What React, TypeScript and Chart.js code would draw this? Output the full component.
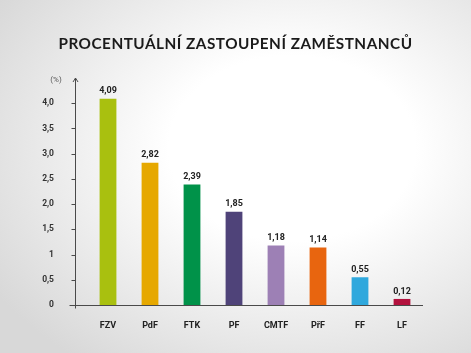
import React, { useEffect, useRef } from 'react';
import { Chart, registerables } from 'chart.js';

Chart.register(...registerables);

const title = 'PROCENTUÁLNÍ ZASTOUPENÍ ZAMĚSTNANCŮ';
const unitLabel = '(%)';
const categories = ['FZV', 'PdF', 'FTK', 'PF', 'CMTF', 'PřF', 'FF', 'LF'];
const values = [4.09, 2.82, 2.39, 1.85, 1.18, 1.14, 0.55, 0.12];
const valueLabels = ['4,09', '2,82', '2,39', '1,85', '1,18', '1,14', '0,55', '0,12'];
const barColors = ['#a9c00f', '#e6a800', '#009249', '#4f4379', '#9d80b5', '#e8650f', '#2fa8dd', '#b3123e'];
const yTickValues = [0, 0.5, 1, 1.5, 2, 2.5, 3, 3.5, 4];
const yTickLabels = ['0', '0,5', '1', '1,5', '2,0', '2,5', '3,0', '3,5', '4,0'];

const FONT = 'Roboto, "DejaVu Sans", sans-serif';

const decorPlugin = {
  id: 'decor',
  afterDraw(chart: any) {
    const { ctx, chartArea } = chart;
    const yScale = chart.scales.y;
    ctx.save();
    // title
    ctx.fillStyle = '#1b1b1b';
    ctx.font = '700 15.3px Lato, "Open Sans", sans-serif';
    ctx.textAlign = 'center';
    ctx.textBaseline = 'middle';
    try { (ctx as any).letterSpacing = '0.5px'; } catch (e) {}
    ctx.fillText(title, chart.width / 2, 44);
    try { (ctx as any).letterSpacing = '0px'; } catch (e) {}

    // axes
    const ax = Math.round(chartArea.left - 12) + 0.5;
    const bottom = Math.round(chartArea.bottom) + 0.5;
    ctx.strokeStyle = '#4a4a4a';
    ctx.lineWidth = 1;
    ctx.beginPath();
    ctx.moveTo(ax, chartArea.top);
    ctx.lineTo(ax, bottom + 3);
    ctx.moveTo(ax - 6, bottom);
    ctx.lineTo(chartArea.right, bottom);
    ctx.stroke();
    // arrow
    ctx.beginPath();
    ctx.moveTo(ax - 2.5, chartArea.top + 4);
    ctx.lineTo(ax, chartArea.top);
    ctx.lineTo(ax + 2.5, chartArea.top + 4);
    ctx.stroke();
    // tick marks
    ctx.beginPath();
    yTickValues.forEach((v) => {
      const y = Math.round(yScale.getPixelForValue(v)) + 0.5;
      ctx.moveTo(ax - 4, y);
      ctx.lineTo(ax, y);
    });
    ctx.stroke();

    // unit label
    ctx.fillStyle = '#555';
    ctx.font = `400 8px ${FONT}`;
    ctx.textAlign = 'center';
    ctx.textBaseline = 'middle';
    ctx.fillText(unitLabel, 56, chartArea.top + 2);

    // value labels
    const meta = chart.getDatasetMeta(0);
    ctx.fillStyle = '#222';
    ctx.font = `700 9px ${FONT}`;
    ctx.textBaseline = 'bottom';
    meta.data.forEach((bar: any, i: number) => {
      ctx.fillText(valueLabels[i], bar.x, bar.y - 3);
    });
    ctx.restore();
  },
};

export default function App() {
  const ref = useRef<HTMLCanvasElement>(null);
  useEffect(() => {
    document.body.style.margin = '0';
    const chart = new Chart(ref.current!, {
      type: 'bar',
      data: {
        labels: categories,
        datasets: [
          {
            data: values,
            backgroundColor: barColors,
            barPercentage: 0.4,
            categoryPercentage: 1,
          },
        ],
      },
      options: {
        animation: false,
        responsive: false,
        layout: { padding: { top: 78, right: 48, bottom: 0, left: 0 } },
        plugins: { legend: { display: false }, tooltip: { enabled: false }, title: { display: false } },
        scales: {
          x: {
            grid: { display: false },
            border: { display: false },
            ticks: { color: '#222', font: { family: FONT, size: 9, weight: 'bold' }, padding: 7 },
            afterFit: (s: any) => { s.height = 48; },
          },
          y: {
            min: 0,
            max: 4.5,
            grid: { display: false },
            border: { display: false },
            afterBuildTicks: (s: any) => { s.ticks = yTickValues.map((v) => ({ value: v })); },
            ticks: {
              color: '#333',
              font: { family: FONT, size: 8.5, weight: 'bold' },
              padding: 25,
              callback: (v: any) => {
                const i = yTickValues.indexOf(Number(v));
                return i >= 0 ? yTickLabels[i] : '';
              },
            },
            afterFit: (s: any) => { s.width = 87; },
          },
        },
      },
      plugins: [decorPlugin],
    });
    return () => chart.destroy();
  }, []);
  return (
    <div
      style={{
        position: 'fixed',
        left: 0,
        top: 0,
        width: 471,
        height: 353,
        background: 'radial-gradient(ellipse 75% 75% at 62% 42%, #ffffff 35%, #d8d8d8 100%)',
      }}
    >
      <canvas ref={ref} width={471} height={353} />
    </div>
  );
}
